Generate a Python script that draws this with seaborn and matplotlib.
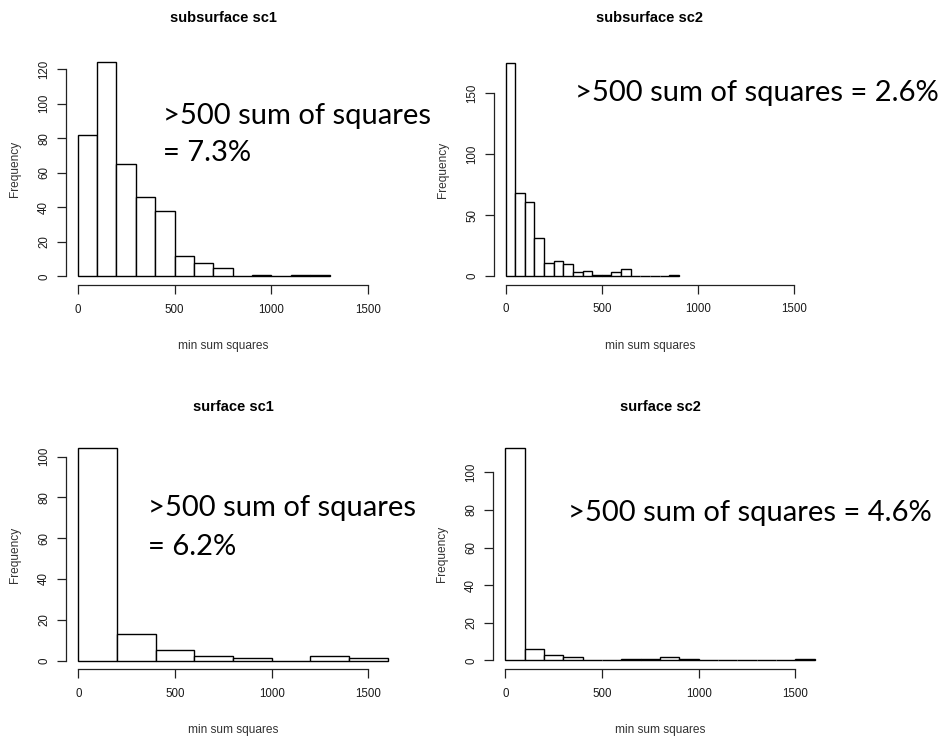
import numpy as np
import pandas as pd
import seaborn as sns
import matplotlib
matplotlib.use("Agg")
import matplotlib.pyplot as plt

sns.set_style("white")
plt.rcParams['font.family'] = ['Liberation Sans', 'DejaVu Sans']

# counts (left bin edges + width)
sub_sc1_counts = [82, 124, 65, 46, 38, 12, 8, 5, 0, 1, 0, 1, 1]
sub_sc1_width = 100
sub_sc2_counts = [175, 68, 61, 31, 11, 12, 10, 3, 4, 1, 1, 3, 6, 0, 0, 0, 0, 1]
sub_sc2_width = 50
surf_sc1_counts = [104, 13, 5, 2, 1, 0, 2, 1]
surf_sc1_width = 200
surf_sc2_counts = [113, 6, 3, 2, 0, 0, 1, 1, 2, 1, 0, 0, 0, 0, 0, 1]
surf_sc2_width = 100

titles = ["subsurface sc1", "subsurface sc2", "surface sc1", "surface sc2"]
notes = [">500 sum of squares\n= 7.3%", ">500 sum of squares = 2.6%",
         ">500 sum of squares\n= 6.2%", ">500 sum of squares = 4.6%"]
yticks = [[0, 20, 40, 60, 80, 100, 120], [0, 50, 100, 150],
          [0, 20, 40, 60, 80, 100], [0, 20, 40, 60, 80, 100]]
xranges = [(0, 1500), (0, 1500), (0, 1600), (0, 1600)]
xticks = [0, 500, 1000, 1500]

panels = [(sub_sc1_counts, sub_sc1_width), (sub_sc2_counts, sub_sc2_width),
          (surf_sc1_counts, surf_sc1_width), (surf_sc2_counts, surf_sc2_width)]

W, H = 939, 736
fig = plt.figure(figsize=(W / 100, H / 100), dpi=100)

# plot regions in pixels: left, top, right, bottom
boxes = [(66, 53.5, 380, 285), (494, 54.3, 806, 284.5),
         (66, 440, 400, 669), (493, 439.3, 827, 669)]
title_base = [22, 22, 411, 411]
# text: left x, baseline y of each line
note_pos = [(163, [124, 161]), (575, [101]), (148, [516, 555]), (568, [521])]

for i, ((counts, width), box) in enumerate(zip(panels, boxes)):
    l, t, r, b = box
    ax = fig.add_axes([l / W, 1 - b / H, (r - l) / W, (b - t) / H])
    counts = np.array(counts)
    edges = [k * width for k in range(len(counts) + 1)]
    df = pd.DataFrame({"mid": np.array(edges[:-1]) + width / 2, "n": counts})
    sns.histplot(data=df, x="mid", weights="n", bins=edges, ax=ax,
                 color="white", edgecolor="black", linewidth=1.0, alpha=1)
    x0, x1 = xranges[i]
    pad = 0.04 * (x1 - x0)
    ax.set_xlim(x0 - pad, x1 + pad)
    ym = counts.max()
    ax.set_ylim(-0.04 * ym, 1.04 * ym)
    for s in ["top", "right"]:
        ax.spines[s].set_visible(False)
    ax.spines["left"].set_bounds(yticks[i][0], yticks[i][-1])
    ax.spines["bottom"].set_bounds(xticks[0], xticks[-1])
    for s in ["left", "bottom"]:
        ax.spines[s].set_linewidth(0.9)
        ax.spines[s].set_color("#222222")
    ax.set_xticks(xticks)
    ax.set_yticks(yticks[i])
    ax.tick_params(axis="both", direction="out", length=6.5, width=0.9,
                   color="#222222", labelsize=8.3, labelcolor="#1a1a1a",
                   bottom=True, left=True)
    ax.tick_params(axis="x", pad=7)
    ax.tick_params(axis="y", pad=5)
    for lab in ax.get_yticklabels():
        lab.set_rotation(90)
        lab.set_va("center")
    ax.set_xlabel("min sum squares", fontsize=8.6, color="#333333", labelpad=17.5)
    ax.set_ylabel("Frequency", fontsize=8.6, color="#333333", labelpad=12)
    ax.patch.set_alpha(0)

    fig.text((l + r) / 2 / W, 1 - title_base[i] / H, titles[i],
             ha="center", va="baseline", fontsize=10.5, fontweight="bold",
             color="black")

    nx, nys = note_pos[i]
    for line, ny in zip(notes[i].split("\n"), nys):
        fig.text(nx / W, 1 - ny / H, line, ha="left", va="baseline",
                 fontsize=21, family=["Lato", "DejaVu Sans"], color="black")

fig.savefig("out.png", dpi=100, facecolor="white")
